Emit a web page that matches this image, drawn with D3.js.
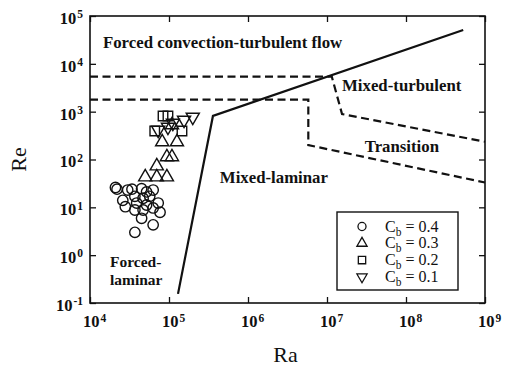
<!DOCTYPE html>
<html>
<head>
<meta charset="utf-8">
<script src="https://cdn.jsdelivr.net/npm/d3@7"></script>
<style>
  body { margin: 0; background: #fff; }
  svg { font-family: "Liberation Serif", "Times New Roman", serif; }
</style>
</head>
<body>
<div id="chart"></div>
<script>
// regime map Re vs Ra, log-log

const xTicks = [1e4, 1e5, 1e6, 1e7, 1e8, 1e9];
const yTicks = [1e-1, 1e0, 1e1, 1e2, 1e3, 1e4, 1e5];

// data points [Ra, Re]
const cb04 = [
  [2.1e4, 26], [2.2e4, 24], [3.0e4, 23], [3.4e4, 24], [4.5e4, 24.5], [5.2e4, 21], [6.3e4, 23],
  [2.6e4, 14], [3.7e4, 17], [4.7e4, 15.5], [5.7e4, 17], [7.3e4, 12.3],
  [2.8e4, 10.3], [3.9e4, 12.3], [5.2e4, 11.2], [6.3e4, 9.7],
  [3.7e4, 8.8], [4.7e4, 8.8], [7.7e4, 7.9],
  [4.5e4, 5.9], [6.3e4, 4.3], [3.7e4, 3.0]
];
const cb03 = [
  [5.0e4, 43], [7.0e4, 43], [9.4e4, 43],
  [7.0e4, 73], [9.4e4, 113], [1.09e5, 113],
  [8.2e4, 232], [1.26e5, 232], [1.09e5, 526]
];
const cb02 = [
  [8.4e4, 811], [9.7e4, 811], [6.6e4, 394], [1.46e5, 394]
];
const cb01 = [
  [7.3e4, 414], [9.7e4, 478], [1.12e5, 580], [1.55e5, 670], [2.0e5, 773]
];

// regime boundaries [Ra, Re]
const solidLine = [[1.3e5, 0.155], [3.6e5, 815], [5.3e8, 5.1e4]];
const dashUpper = [[1e4, 5400], [1.15e7, 5400], [1.55e7, 890], [1e9, 235]];
const dashLower = [[1e4, 1780], [5.8e6, 1780], [5.8e6, 200], [1e9, 33]];

const regionLabels = [
  { text: "Forced convection-turbulent flow", ra: 1.46e4, re: 2.14e4, size: 16.8 },
  { text: "Mixed-turbulent", ra: 1.55e7, re: 2700, size: 16.8 },
  { text: "Transition", ra: 3.0e7, re: 144, size: 16.8 },
  { text: "Mixed-laminar", ra: 4.4e5, re: 32, size: 16.8 },
  { text: "Forced-", ra: 1.79e4, re: 0.565, size: 15.5 },
  { text: "laminar", ra: 1.79e4, re: 0.243, size: 15.5 }
];

const legendItems = [
  { label: "0.4", shape: "circle" },
  { label: "0.3", shape: "up" },
  { label: "0.2", shape: "square" },
  { label: "0.1", shape: "down" }
];

const W = 511, H = 375;
const margin = { top: 16, right: 26, bottom: 72, left: 90 };
const width = W - margin.left - margin.right;
const height = H - margin.top - margin.bottom;

const svg = d3.select("#chart").append("svg")
  .attr("width", W)
  .attr("height", H);

const g = svg.append("g")
  .attr("transform", `translate(${margin.left},${margin.top})`);

const x = d3.scaleLog().domain([1e4, 1e9]).range([0, width]);
const y = d3.scaleLog().domain([1e-1, 1e5]).range([height, 0]);

const expOf = v => Math.round(Math.log10(v));

// axes with inward ticks
const xAxis = g.append("g")
  .attr("transform", `translate(0,${height})`)
  .call(d3.axisBottom(x).tickValues(xTicks).tickSizeInner(-6).tickSizeOuter(0).tickPadding(12));
const yAxis = g.append("g")
  .call(d3.axisLeft(y).tickValues(yTicks).tickSizeInner(-6).tickSizeOuter(0).tickPadding(7));
g.append("g")
  .call(d3.axisTop(x).tickValues(xTicks).tickSizeInner(-6).tickSizeOuter(0).tickFormat(""));
g.append("g")
  .attr("transform", `translate(${width},0)`)
  .call(d3.axisRight(y).tickValues(yTicks).tickSizeInner(-6).tickSizeOuter(0).tickFormat(""));

g.selectAll(".domain").remove();
g.selectAll(".tick line").attr("stroke", "#111").attr("stroke-width", 1.3);

function powerLabel(sel) {
  sel.selectAll(".tick text").each(function(d) {
    const t = d3.select(this);
    t.text(null)
      .attr("fill", "#111")
      .attr("font-size", 16.5)
      .attr("font-weight", "bold")
      .attr("font-family", "Liberation Serif, serif");
    t.append("tspan").text("10");
    t.append("tspan")
      .attr("dy", "-0.5em")
      .attr("dx", 1)
      .attr("font-size", 11.5)
      .text(expOf(d));
  });
}
powerLabel(xAxis);
powerLabel(yAxis);
xAxis.selectAll(".tick text").attr("dx", 4).attr("dy", "0.75em");
yAxis.selectAll(".tick text").attr("dy", "0.45em");

// frame
g.append("rect")
  .attr("width", width)
  .attr("height", height)
  .attr("fill", "none")
  .attr("stroke", "#111")
  .attr("stroke-width", 1.6);

// boundaries
const line = d3.line().x(d => x(d[0])).y(d => y(d[1]));

g.append("path").datum(solidLine)
  .attr("d", line)
  .attr("fill", "none")
  .attr("stroke", "#111")
  .attr("stroke-width", 2.2);

[dashUpper, dashLower].forEach(pts => {
  g.append("path").datum(pts)
    .attr("d", line)
    .attr("fill", "none")
    .attr("stroke", "#111")
    .attr("stroke-width", 2.2)
    .attr("stroke-dasharray", "8,4.5");
});

// markers
const symPath = (shape, scale) => {
  const s = scale || 1;
  if (shape === "circle") return d3.symbol().type(d3.symbolCircle).size(85 * s)();
  if (shape === "square") return d3.symbol().type(d3.symbolSquare).size(90 * s)();
  return d3.symbol().type(d3.symbolTriangle).size(75 * s)();
};

const series = [
  { data: cb04, shape: "circle" },
  { data: cb03, shape: "up" },
  { data: cb02, shape: "square" },
  { data: cb01, shape: "down" }
];

series.forEach(s => {
  g.selectAll(null)
    .data(s.data)
    .enter()
    .append("path")
    .attr("d", symPath(s.shape))
    .attr("transform", d => `translate(${x(d[0])},${y(d[1])})` + (s.shape === "down" ? " rotate(180)" : ""))
    .attr("fill", "none")
    .attr("stroke", "#111")
    .attr("stroke-width", 1.4);
});

// region labels
g.selectAll(".region")
  .data(regionLabels)
  .enter()
  .append("text")
  .attr("class", "region")
  .attr("x", d => x(d.ra))
  .attr("y", d => y(d.re))
  .attr("font-size", d => d.size)
  .attr("font-weight", "bold")
  .attr("fill", "#111")
  .text(d => d.text);

// legend
const lg = svg.append("g").attr("transform", "translate(337,212)");
lg.append("rect")
  .attr("width", 121)
  .attr("height", 78)
  .attr("fill", "#fff")
  .attr("stroke", "#111")
  .attr("stroke-width", 1.4);

legendItems.forEach((it, i) => {
  const cy = 14.5 + i * 16.8;
  lg.append("path")
    .attr("d", symPath(it.shape, 0.6))
    .attr("transform", `translate(25,${cy})` + (it.shape === "down" ? " rotate(180)" : ""))
    .attr("fill", "none")
    .attr("stroke", "#111")
    .attr("stroke-width", 1.3);
  const t = lg.append("text")
    .attr("x", 48)
    .attr("y", cy + 5)
    .attr("font-size", 16)
    .attr("fill", "#111");
  t.append("tspan").text("C");
  t.append("tspan").attr("dy", 4).attr("font-size", 11.5).text("b");
  t.append("tspan").attr("dy", -4).text(" = " + it.label);
});

// axis titles
svg.append("text")
  .attr("transform", `translate(26,${margin.top + height / 2}) rotate(-90)`)
  .attr("text-anchor", "middle")
  .attr("font-size", 22)
  .attr("fill", "#111")
  .text("Re");

svg.append("text")
  .attr("x", margin.left + width * 0.5 - 2)
  .attr("y", 362)
  .attr("text-anchor", "middle")
  .attr("font-size", 22)
  .attr("fill", "#111")
  .text("Ra");
</script>
</body>
</html>
